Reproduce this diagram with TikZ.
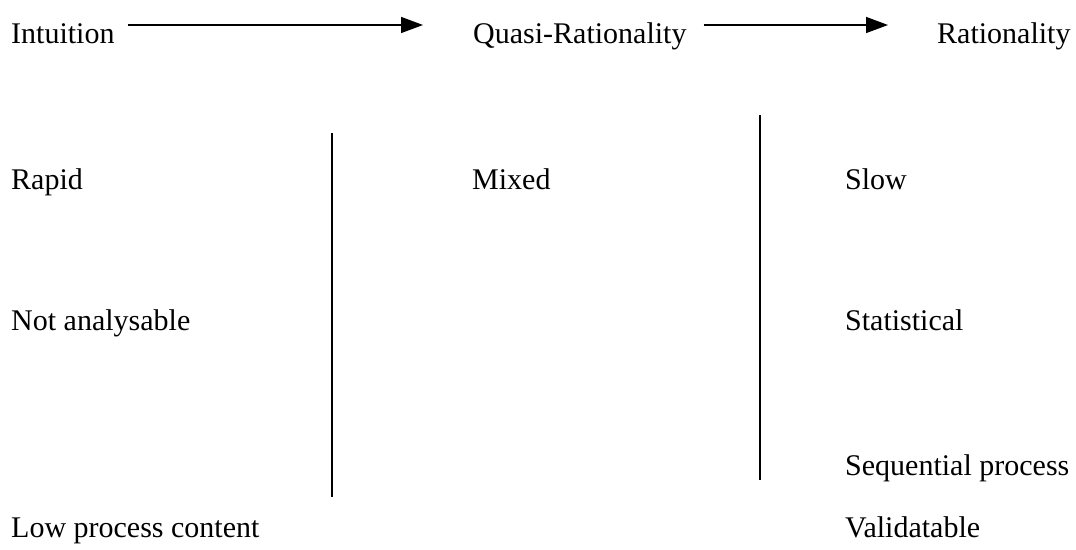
\documentclass[tikz,border=0pt]{standalone}
\usepackage{fontspec}
\setmainfont{Liberation Serif}
\usetikzlibrary{arrows.meta}
\begin{document}
\begin{tikzpicture}[x=1pt,y=-1pt,
  lbl/.style={anchor=base west,inner sep=0pt,font=\fontsize{30}{33}\selectfont},
  flow/.style={line width=1.5pt,-{Triangle[length=22pt,width=16pt]}},
  divider/.style={line width=1.5pt}]
\useasboundingbox (0,0) rectangle (1076,549);
\node[lbl] (intu) at (11,43) {Intuition};
\node[lbl] (quasi) at (473,43) {Quasi-Rationality};
\node[lbl] (rat) at (937,43) {Rationality};
\draw[flow] ([xshift=13pt,yshift=18pt]intu.base east) -- ([xshift=-50pt,yshift=18pt]quasi.base west);
\draw[flow] ([xshift=17pt,yshift=18pt]quasi.base east) -- ([xshift=-49pt,yshift=18pt]rat.base west);
\node[lbl] (rapid) at (11,189) {Rapid};
\node[lbl] (mixed) at (472,189) {Mixed};
\node[lbl] (slow) at (845,189) {Slow};
\node[lbl] (notan) at (11,330) {Not analysable};
\node[lbl] (stat) at (845,330) {Statistical};
\node[lbl] (seq) at (845,475) {Sequential process};
\node[lbl] (low) at (11,537) {Low process content};
\node[lbl] (valid) at (845,537) {Validatable};
\draw[divider] (332,133) -- (332,497);
\draw[divider] (760,115) -- (760,480);
\end{tikzpicture}
\end{document}
